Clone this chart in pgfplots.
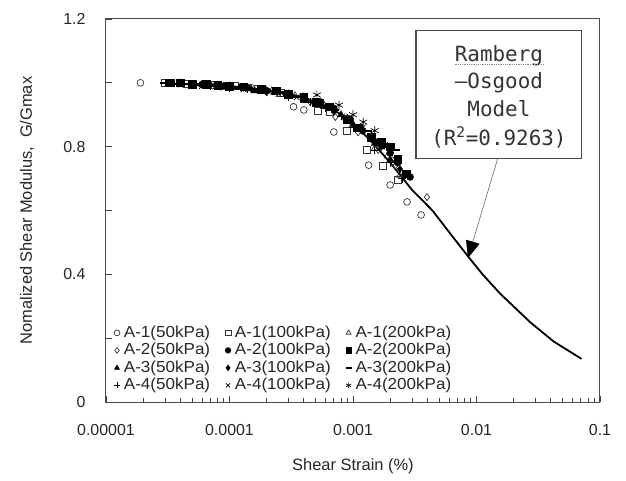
\documentclass[border=0pt]{standalone}
\usepackage{fontspec}
\setmainfont{Liberation Sans}
\newfontfamily\legfont{Liberation Sans}[FakeStretch=1.07]
\newfontfamily\boxfont{DejaVu Sans Mono}
\usepackage{pgfplots}
\pgfplotsset{compat=1.18}
\usetikzlibrary{arrows.meta}
\begin{document}
\begin{tikzpicture}
\useasboundingbox (-106bp,-79bp) rectangle (520bp,402bp);
\begin{axis}[
 scale only axis, width=494bp, height=383bp,
 xmode=log, xmin=1e-5, xmax=0.1, ymin=0, ymax=1.2,
 xtick={1e-5,1e-4,1e-3,1e-2,1e-1},
 xticklabels={0.00001,0.0001,0.001,0.01,0.1},
 ytick={0,0.2,0.4,0.6,0.8,1.0,1.2},
 yticklabels={0,,0.4,,0.8,,1.2},
 tick align=inside, tick pos=left,
 major tick length=6bp, minor tick length=4bp,
 axis line style={draw=black!70, line width=1bp},
 every tick/.append style={black!75, line width=0.8bp},
 tick label style={font=\fontsize{16}{18}\selectfont, text=black!85},
 xticklabel style={yshift=-19bp},
 yticklabel style={xshift=-17bp},
 xlabel={Shear Strain (\%)},
 ylabel={Nomalized Shear Modulus,\ \ G/Gmax},
 every axis x label/.style={at={([yshift=-64bp]axis description cs:0.5,0)}, anchor=center, font=\fontsize{16.5}{18}\selectfont, text=black!85},
 every axis y label/.style={at={([xshift=-79bp]axis description cs:0,0.5)}, anchor=center, rotate=90, font=\fontsize{16.5}{18}\selectfont, text=black!85},
 legend columns=3,
 legend cell align=left,
 legend image code/.code={\draw[mark repeat=2,mark phase=2,#1, mark size=2.9bp] plot coordinates {(0bp,0bp)(3.5bp,0bp)(7bp,0bp)};},
 legend style={at={(0.01,0.209)}, anchor=north west, draw=none, fill=none,
   font=\legfont\fontsize{16}{17}\selectfont, text=black!85, row sep=0bp,
   nodes={inner sep=1bp, text height=12bp, text depth=3.5bp},
   /tikz/every odd column/.append style={column sep=3bp},
   /tikz/every even column/.append style={column sep=14bp}},
]
% model curve
\addplot[forget plot, black, line width=1.8bp] coordinates {
(3e-5,0.998)(1e-4,0.99)(2e-4,0.978)(4e-4,0.955)(7e-4,0.915)(1e-3,0.875)
(1.5e-3,0.805)(2e-3,0.75)(3e-3,0.665)(4.4e-3,0.60)(6.5e-3,0.515)(8.8e-3,0.45)
(0.0112,0.40)(0.0155,0.34)(0.0272,0.25)(0.042,0.19)(0.071,0.135)};
% A-1(50kPa)
\addplot[only marks, mark=o, mark size=3.4bp, black!80, line width=0.7bp] coordinates {
(1.9e-5,1.0)(6e-5,0.995)(1.5e-4,0.985)(0.00033,0.925)(0.0004,0.915)(0.0007,0.846)(0.00134,0.742)(0.002,0.68)(0.00274,0.627)(0.00356,0.586)};
\addlegendentry{A-1(50kPa)}
% A-1(100kPa)
\addplot[only marks, mark=square, mark size=3.5bp, black!80, line width=0.7bp] coordinates {
(3e-5,1.0)(4.5e-5,0.998)(7e-5,0.993)(1.1e-4,0.99)(1.7e-4,0.982)(2.6e-4,0.97)(4e-4,0.95)(5.2e-4,0.912)(6.5e-4,0.91)(9e-4,0.85)(1.3e-3,0.79)(1.75e-3,0.74)(2.3e-3,0.695)};
\addlegendentry{A-1(100kPa)}
% A-1(200kPa)
\addplot[only marks, mark=triangle, mark size=3.8bp, black!80, line width=0.7bp] coordinates {
(4e-5,1.0)(6e-5,0.995)(9e-5,0.99)(1.4e-4,0.985)(2.2e-4,0.975)(3.4e-4,0.96)(5.5e-4,0.93)(8.5e-4,0.89)(1.1e-3,0.855)(1.5e-3,0.795)(1.9e-3,0.77)(2.4e-3,0.71)};
\addlegendentry{A-1(200kPa)}
% A-2(50kPa)
\addplot[only marks, mark=diamond, mark size=3.5bp, black!80, line width=0.7bp] coordinates {
(5e-5,0.995)(8e-5,0.99)(1.3e-4,0.985)(2e-4,0.975)(3e-4,0.96)(4.5e-4,0.94)(7.2e-4,0.893)(1.1e-3,0.845)(1.6e-3,0.79)(2.2e-3,0.74)(3.97e-3,0.642)};
\addlegendentry{A-2(50kPa)}
% A-2(100kPa)
\addplot[only marks, mark=*, mark size=3.5bp, black] coordinates {
(4e-5,1.0)(6e-5,0.995)(9e-5,0.99)(1.4e-4,0.985)(2e-4,0.975)(3e-4,0.965)(4e-4,0.955)(5.5e-4,0.94)(7e-4,0.92)(9.5e-4,0.885)(1.2e-3,0.85)(1.6e-3,0.815)(2e-3,0.78)(2.3e-3,0.75)(2.9e-3,0.705)};
\addlegendentry{A-2(100kPa)}
% A-2(200kPa)
\addplot[only marks, mark=square*, mark size=3.8bp, black] coordinates {
(3.3e-5,1.0)(4e-5,1.0)(5e-5,0.995)(6.5e-5,0.995)(8e-5,0.993)(1e-4,0.99)(1.3e-4,0.988)(1.8e-4,0.98)(2.4e-4,0.975)(3e-4,0.965)(4e-4,0.955)(5e-4,0.94)(6.5e-4,0.925)(9e-4,0.885)(1.1e-3,0.86)(1.4e-3,0.83)(1.7e-3,0.815)(2e-3,0.80)(2.3e-3,0.76)(2.7e-3,0.715)};
\addlegendentry{A-2(200kPa)}
% A-3(50kPa)
\addplot[only marks, mark=triangle*, mark size=4bp, black] coordinates {
(4e-5,0.995)(6e-5,0.995)(8e-5,0.99)(1.2e-4,0.985)(1.6e-4,0.975)(2.3e-4,0.97)(3e-4,0.96)(4.2e-4,0.945)(6e-4,0.925)(8e-4,0.90)(1e-3,0.87)(1.5e-3,0.81)(2e-3,0.76)};
\addlegendentry{A-3(50kPa)}
% A-3(100kPa)
\addplot[only marks, mark=diamond*, mark size=3.6bp, black] coordinates {
(5e-5,0.995)(7e-5,0.993)(1e-4,0.985)(1.5e-4,0.98)(2e-4,0.97)(2.8e-4,0.965)(4e-4,0.95)(5.5e-4,0.93)(7e-4,0.91)(9e-4,0.89)(1.2e-3,0.85)(1.7e-3,0.80)(2.4e-3,0.73)};
\addlegendentry{A-3(100kPa)}
% A-3(200kPa)
\addplot[only marks, mark=-, mark size=5bp, black, line width=2.4bp] coordinates {
(3e-5,1.0)(4.5e-5,0.997)(6e-5,0.995)(8.5e-5,0.99)(1.2e-4,0.985)(1.7e-4,0.98)(2.5e-4,0.97)(3.5e-4,0.955)(5e-4,0.94)(7e-4,0.915)(9e-4,0.89)(1.3e-3,0.85)(1.8e-3,0.80)(2.2e-3,0.79)};
\addlegendentry{A-3(200kPa)}
% A-4(50kPa)
\addplot[only marks, mark=+, mark size=4bp, black, line width=0.7bp] coordinates {
(3e-5,1.0)(5e-5,0.995)(7e-5,0.99)(1e-4,0.985)(1.4e-4,0.98)(2e-4,0.972)(3e-4,0.955)(4.5e-4,0.94)(6e-4,0.92)(8e-4,0.895)(1e-3,0.86)(1.5e-3,0.79)(2e-3,0.75)(2.5e-3,0.70)};
\addlegendentry{A-4(50kPa)}
% A-4(100kPa)
\addplot[only marks, mark=x, mark size=4bp, black, line width=0.7bp] coordinates {
(4e-5,0.995)(6e-5,0.99)(9e-5,0.985)(1.3e-4,0.98)(1.8e-4,0.975)(2.5e-4,0.965)(3.5e-4,0.955)(5e-4,0.935)(7e-4,0.915)(9e-4,0.89)(1.2e-3,0.86)(1.7e-3,0.80)(2.2e-3,0.76)};
\addlegendentry{A-4(100kPa)}
% A-4(200kPa)
\addplot[only marks, mark=asterisk, mark size=4.5bp, black, line width=0.7bp] coordinates {
(5e-5,0.995)(7e-5,0.993)(1e-4,0.99)(1.4e-4,0.985)(2e-4,0.975)(3e-4,0.965)(4e-4,0.955)(5.1e-4,0.962)(7.7e-4,0.93)(1e-3,0.90)(1.21e-3,0.877)(1.5e-3,0.85)(1.9e-3,0.80)};
\addlegendentry{A-4(200kPa)}
% annotation box
\draw[black!70, line width=1.2bp, fill=white] (axis cs:0.00324,1.1635) rectangle (axis cs:0.0708,0.764);
\node[font=\boxfont\fontsize{21}{24}\selectfont, text=black!80, inner sep=0pt, anchor=base] (r) at (axis cs:0.0152,1.068) {Ramberg};
\draw[black!45, densely dotted, line width=0.8bp] ([yshift=-3bp]r.base west) -- ([yshift=-3bp]r.base east);
\node[font=\boxfont\fontsize{21}{24}\selectfont, text=black!80, inner sep=0pt, anchor=base] at (axis cs:0.0152,0.981) {\textendash Osgood};
\node[font=\boxfont\fontsize{21}{24}\selectfont, text=black!80, inner sep=0pt, anchor=base] at (axis cs:0.0152,0.893) {Model};
\node[font=\boxfont\fontsize{21}{24}\selectfont, text=black!80, inner sep=0pt, anchor=base] at (axis cs:0.0152,0.805) {(R\textsuperscript{2}=0.9263)};
\draw[black!60, line width=0.6bp, -{Triangle[length=17bp,width=14bp,black]}] (axis cs:0.01488,0.764) -- (axis cs:0.00853,0.451);
\end{axis}
\end{tikzpicture}
\end{document}
